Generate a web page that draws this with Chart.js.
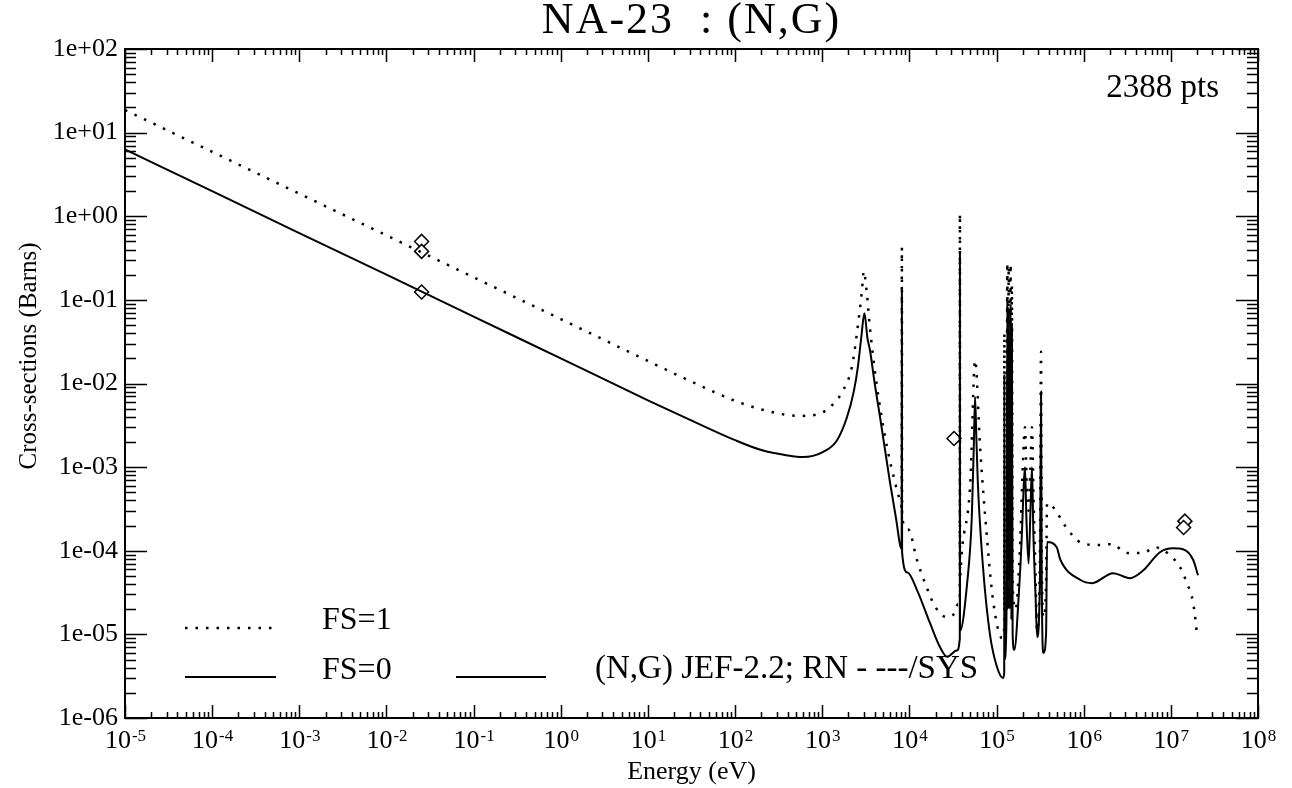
<!DOCTYPE html>
<html>
<head>
<meta charset="utf-8">
<title>NA-23 (N,G)</title>
<script src="https://cdn.jsdelivr.net/npm/chart.js@4.4.0/dist/chart.umd.min.js"></script>
<style>
  html, body { margin: 0; padding: 0; background: #fff; }
  #wrap { width: 1292px; height: 788px; position: relative; }
</style>
</head>
<body>
<div id="wrap"><canvas id="xsChart"></canvas></div>
<script>
// FS=0 curve (solid)
const fs0Energy = [
  1e-5, 1e-4, 1e-3, 1e-2, 1e-1, 1, 10, 30, 100, 200, 400, 600, 1000, 1480, 1930, 2300, 2570, 2800, 3050,
  3300, 3530, 4000, 4600, 6000, 7000, 8150, 8200, 8250, 9500, 1.22e4, 1.73e4, 2.25e4, 2.7e4, 3.5e4,
  3.79e4, 3.8e4, 3.81e4, 4.6e4, 5.2e4, 5.5e4, 5.67e4, 5.85e4, 6.1e4, 7e4, 8.4e4, 1.01e5, 1.19e5,
  1.225e5, 1.23e5, 1.235e5, 1.3e5, 1.33e5, 1.345e5, 1.38e5, 1.41e5, 1.45e5, 1.48e5, 1.5e5, 1.53e5,
  1.6e5, 1.8e5, 1.95e5, 2.05e5, 2.12e5, 2.2e5, 2.33e5, 2.45e5, 2.55e5, 2.65e5, 2.8e5, 2.92e5, 3.15e5,
  3.24e5, 3.3e5, 3.45e5, 3.7e5, 3.8e5, 4.9e5, 5.4e5, 9.1e5, 1.25e6, 2.17e6, 3.4e6, 4.8e6, 7.5e6,
  1.06e7, 1.38e7, 1.8e7, 2.05e7
];
const fs0Xs = [
  6.3, 2.0, 0.63, 0.2, 0.063, 0.02, 6.3e-3, 3.7e-3, 2.1e-3, 1.6e-3, 1.38e-3, 1.32e-3, 1.5e-3, 2.1e-3, 4e-3, 8e-3, 1.6e-2, 3.5e-2, 0.069,
  0.035, 0.025, 0.01, 4e-3, 6.5e-4, 2.5e-4, 1.05e-4, 0.14, 9.5e-5, 5.5e-5, 3.4e-5, 1.35e-5, 7e-6, 5.4e-6, 6.4e-6,
  9e-6, 0.38, 1.1e-5, 4.1e-5, 2.5e-4, 2e-3, 6.9e-3, 2.5e-3, 6.5e-4, 6.3e-5, 1e-5, 4.1e-6, 3e-6,
  3.5e-6, 0.013, 5e-6, 1.5e-5, 0.1, 2e-5, 0.08, 2e-5, 0.09, 1.5e-5, 0.05, 1e-5,
  6.5e-6, 3e-5, 1.5e-4, 6e-4, 1e-3, 2.5e-4, 7e-5, 3e-4, 1e-3, 1.5e-4, 3e-5, 9.3e-6, 5e-5,
  8e-3, 5e-5, 6e-6, 1e-5, 1.27e-4, 1.1e-4, 7.8e-5, 4.5e-5, 4.1e-5, 5.4e-5, 4.7e-5, 5.8e-5, 9.6e-5,
  1.07e-4, 1.04e-4, 7.8e-5, 5.1e-5
];

// FS=1 curve (dotted)
const fs1Energy = [
  1e-5, 1e-4, 1e-3, 1e-2, 1e-1, 1, 10, 30, 100, 200, 400, 650, 1000, 1300, 1740, 2190, 2500, 2860, 3000,
  3250, 3500, 4200, 5500, 7000, 8100, 8150, 8200, 8250, 9700, 1.22e4, 1.57e4, 2e4, 2.7e4, 3.3e4, 3.6e4,
  3.79e4, 3.8e4, 3.81e4, 4e4, 5e4, 5.67e4, 6.5e4, 7.7e4, 9.1e4, 1.16e5,
  1.225e5, 1.23e5, 1.235e5, 1.3e5, 1.33e5, 1.345e5, 1.38e5, 1.41e5, 1.45e5, 1.48e5, 1.5e5, 1.53e5,
  1.65e5, 1.85e5, 2e5, 2.12e5, 2.22e5, 2.33e5, 2.45e5, 2.55e5, 2.65e5, 2.8e5, 2.92e5, 3.15e5,
  3.24e5, 3.3e5, 3.45e5, 3.7e5, 3.8e5, 4.6e5, 6.3e5, 9.6e5, 1.54e6, 2.12e6, 3.14e6, 4.8e6, 6.6e6,
  1.03e7, 1.27e7, 1.53e7, 1.8e7, 1.95e7, 2e7
];
const fs1Xs = [
  18.6, 5.9, 1.86, 0.59, 0.186, 0.059, 0.0186, 0.0108, 6.2e-3, 4.9e-3, 4.2e-3, 4.1e-3, 4.5e-3, 5.5e-3, 8.3e-3, 0.0158, 0.04, 0.13, 0.22,
  0.12, 0.05, 0.01, 1.8e-3, 6e-4, 3.4e-4, 3.3e-4, 0.42, 2.5e-4, 1.8e-4, 7.8e-5, 3.7e-5, 2.1e-5, 1.6e-5, 1.8e-5, 2.3e-5,
  3e-5, 1.07, 5e-5, 1e-4, 6.5e-4, 0.019, 1.6e-3, 1.6e-4, 2.6e-5, 9e-6,
  1.2e-5, 0.04, 2e-5, 6e-5, 0.28, 8e-5, 0.25, 8e-5, 0.27, 6e-5, 0.15, 4e-5,
  2e-5, 1e-4, 1e-3, 3e-3, 6e-4, 3e-4, 1e-3, 3e-3, 5e-4, 5e-5, 1.1e-5, 1e-4,
  0.024, 1e-4, 1.6e-5, 4e-5, 3.7e-4, 3.2e-4, 1.9e-4, 1.23e-4, 1.17e-4, 1.2e-4, 9.4e-5, 9.4e-5, 1.1e-4,
  8.4e-5, 6.4e-5, 4.1e-5, 2.4e-5, 1.26e-5, 9.3e-6
];

// measured points (diamonds)
const expEnergy = [0.0253, 0.0253, 0.0253, 3.25e4, 1.45e7, 1.4e7];
const expXs = [0.50, 0.38, 0.124, 2.2e-3, 2.26e-4, 1.9e-4];

const xTickValues = [1e-5, 1e-4, 1e-3, 1e-2, 1e-1, 1, 10, 100, 1e3, 1e4, 1e5, 1e6, 1e7, 1e8];
const yTickValues = [1e-6, 1e-5, 1e-4, 1e-3, 1e-2, 1e-1, 1, 10, 100];

const serif = "'Liberation Serif', 'Times New Roman', serif";

function sciLabel(v) {
  const e = Math.round(Math.log10(v));
  return "1e" + (e < 0 ? "-" : "+") + String(Math.abs(e)).padStart(2, "0");
}

function toPoints(xs, ys) {
  return xs.map((x, i) => ({ x, y: ys[i] }));
}

// box round the plot with inward ticks on all four sides, plus 10^n labels
const frameTicks = {
  id: "frameTicks",
  afterDatasetsDraw(chart) {
    const { ctx, chartArea: a, scales: { x, y } } = chart;
    ctx.save();
    ctx.strokeStyle = "#000";
    ctx.lineWidth = 1.5;
    ctx.beginPath();
    for (let d = -5; d <= 8; d++) {
      for (let m = 1; m <= 9; m++) {
        const v = m * Math.pow(10, d);
        if (v > 1e8 * 1.0001) break;
        const px = Math.round(x.getPixelForValue(v)) + 0.5;
        const len = m === 1 ? 13 : 6;
        ctx.moveTo(px, a.bottom);
        ctx.lineTo(px, a.bottom - len);
        ctx.moveTo(px, a.top);
        ctx.lineTo(px, a.top + len);
      }
    }
    for (let d = -6; d <= 2; d++) {
      for (let m = 1; m <= 9; m++) {
        const v = m * Math.pow(10, d);
        if (v > 100 * 1.0001) break;
        const py = Math.round(y.getPixelForValue(v)) + 0.5;
        const len = m === 1 ? 22 : 11;
        ctx.moveTo(a.left, py);
        ctx.lineTo(a.left + len, py);
        ctx.moveTo(a.right, py);
        ctx.lineTo(a.right - len, py);
      }
    }
    ctx.stroke();
    ctx.lineWidth = 2;
    ctx.strokeRect(a.left, a.top, a.right - a.left, a.bottom - a.top);

    // x labels as 10 with a raised exponent
    ctx.fillStyle = "#000";
    ctx.textBaseline = "alphabetic";
    ctx.textAlign = "left";
    xTickValues.forEach((v) => {
      const px = x.getPixelForValue(v);
      const exp = String(Math.round(Math.log10(v)));
      ctx.font = "26px " + serif;
      const wBase = ctx.measureText("10").width;
      ctx.font = "17px " + serif;
      const wExp = ctx.measureText(exp).width;
      const left = px - (wBase + wExp) / 2;
      ctx.font = "26px " + serif;
      ctx.fillText("10", left, 748);
      ctx.font = "17px " + serif;
      ctx.fillText(exp, left + wBase + 1, 741);
    });
    ctx.restore();
  },
};

// title, text and legend drawn by hand
const plotNotes = {
  id: "plotNotes",
  beforeDatasetsDraw(chart) {
    const { ctx, chartArea: a } = chart;
    ctx.save();
    ctx.fillStyle = "#000";
    ctx.strokeStyle = "#000";
    ctx.textBaseline = "alphabetic";

    ctx.font = "44px " + serif;
    ctx.textAlign = "center";
    ctx.letterSpacing = "2px";
    ctx.fillText("NA-23  : (N,G)", (a.left + a.right) / 2, 33);
    ctx.letterSpacing = "0px";

    ctx.font = "33px " + serif;
    ctx.textAlign = "right";
    ctx.fillText("2388 pts", 1219, 97);

    ctx.lineWidth = 2.5;
    ctx.setLineDash([2.5, 8]);
    ctx.beginPath();
    ctx.moveTo(185, 628);
    ctx.lineTo(276, 628);
    ctx.stroke();
    ctx.lineWidth = 2;
    ctx.setLineDash([]);
    ctx.beginPath();
    ctx.moveTo(185, 677);
    ctx.lineTo(276, 677);
    ctx.moveTo(456, 677);
    ctx.lineTo(546, 677);
    ctx.stroke();

    ctx.font = "32px " + serif;
    ctx.textAlign = "left";
    ctx.fillText("FS=1", 322, 629);
    ctx.fillText("FS=0", 322, 679);
    ctx.font = "33px " + serif;
    ctx.fillText("(N,G) JEF-2.2; RN - ---/SYS", 595, 678);

    ctx.translate(29, 356);
    ctx.rotate(-Math.PI / 2);
    ctx.font = "25px " + serif;
    ctx.textAlign = "center";
    ctx.textBaseline = "middle";
    ctx.fillText("Cross-sections (Barns)", 0, 0);
    ctx.restore();
  },
};

const chartCtx = document.getElementById("xsChart").getContext("2d");
const xsChart = new Chart(chartCtx, {
  type: "line",
  data: {
    datasets: [
      {
        label: "FS=1",
        data: toPoints(fs1Energy, fs1Xs),
        borderColor: "#000",
        borderWidth: 2.5,
        borderDash: [2.5, 8],
        pointRadius: 0,
        cubicInterpolationMode: "monotone",
      },
      {
        label: "FS=0",
        data: toPoints(fs0Energy, fs0Xs),
        borderColor: "#000",
        borderWidth: 2,
        pointRadius: 0,
        cubicInterpolationMode: "monotone",
      },
      {
        label: "data",
        data: toPoints(expEnergy, expXs),
        showLine: false,
        pointStyle: "rectRot",
        pointRadius: 7,
        pointBorderWidth: 1.5,
        pointBorderColor: "#000",
        pointBackgroundColor: "#fff",
      },
    ],
  },
  options: {
    responsive: true,
    maintainAspectRatio: false,
    animation: false,
    layout: { padding: { top: 49, right: 34 } },
    plugins: {
      legend: { display: false },
      tooltip: { enabled: false },
      title: { display: false },
    },
    scales: {
      x: {
        type: "logarithmic",
        min: 1e-5,
        max: 1e8,
        grid: { display: false, drawTicks: false },
        border: { display: false },
        afterBuildTicks: (s) => {
          s.ticks = xTickValues.map((v) => ({ value: v }));
        },
        afterFit: (s) => {
          s.height = 70;
        },
        ticks: { display: false },
        title: {
          display: true,
          text: "Energy (eV)",
          color: "#000",
          font: { family: serif, size: 26 },
          padding: { top: 0, bottom: 0 },
        },
      },
      y: {
        type: "logarithmic",
        min: 1e-6,
        max: 100,
        grid: { display: false, drawTicks: false },
        border: { display: false },
        afterBuildTicks: (s) => {
          s.ticks = yTickValues.map((v) => ({ value: v }));
        },
        afterFit: (s) => {
          s.width = 125;
        },
        ticks: {
          autoSkip: false,
          padding: 7,
          color: "#000",
          font: { family: serif, size: 26 },
          callback: (v) => sciLabel(v),
        },
      },
    },
  },
  plugins: [frameTicks, plotNotes],
});
</script>
</body>
</html>
